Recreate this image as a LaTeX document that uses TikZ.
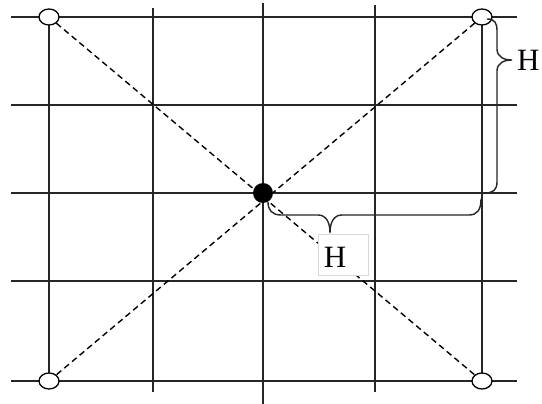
\documentclass[tikz,border=0pt]{standalone}
\usepackage{fontspec}
\setmainfont{Liberation Serif}
\usetikzlibrary{shapes.geometric}
\begin{document}
\begin{tikzpicture}[x=1pt,y=-1pt,
  gridline/.style={line width=1.6pt,draw=black!85},
  diag/.style={line width=1.4pt,dashed,dash pattern=on 6pt off 4pt},
  opendot/.style={ellipse,draw,line width=1.3pt,fill=white,minimum width=20pt,minimum height=16pt,inner sep=0pt},
  fulldot/.style={circle,fill=black,minimum size=20pt,inner sep=0pt},
  bracepath/.style={line width=1.4pt,draw=black!85},
  hlabel/.style={font=\fontsize{31}{31}\selectfont,inner sep=0pt}]
\useasboundingbox[fill=white] (0,0) rectangle (542,404);
% horizontal grid lines
\foreach \y in {17,105,193,281,381}{
  \draw[gridline] (11,\y) -- (517,\y);
}
% vertical grid lines
\draw[gridline] (49,17) -- (49,381);
\draw[gridline] (153,8) -- (153,392);
\draw[gridline] (263,3) -- (263,404);
\draw[gridline] (375,5) -- (375,392);
\draw[gridline] (482,17) -- (482,381);
% corner and centre points
\node[opendot] (tl) at (49,17) {};
\node[opendot] (tr) at (482,17) {};
\node[opendot] (bl) at (49,381) {};
\node[opendot] (br) at (482,381) {};
% diagonals
\draw[diag] (tl) -- (br);
\draw[diag] (tr) -- (bl);
\node[fulldot] (c) at (263,193) {};
% right brace
\draw[bracepath] (487,19) .. controls (495,19) and (497,23) .. (497,31)
  -- (497,49) .. controls (497,57) and (504,60) .. (512,60)
  .. controls (504,60) and (497,63) .. (497,71)
  -- (497,182) .. controls (497,190) and (493,193) .. (485,193);
\node[hlabel,anchor=west] (h1) at (517,60) {H};
% bottom brace
\draw[bracepath] (268,202) .. controls (268,210) and (272,215) .. (281,215)
  -- (318,215) .. controls (326,215) and (330,222) .. (330,233)
  .. controls (330,222) and (334,215) .. (342,215)
  -- (469,215) .. controls (477,215) and (481,210) .. (481,199);
\node[draw=black!15,line width=0.6pt,fill=white,minimum width=50pt,minimum height=41pt,inner sep=0pt] (hbox) at (343,254.5) {};
\node[hlabel] (h2) at (335,257) {H};
\end{tikzpicture}
\end{document}
